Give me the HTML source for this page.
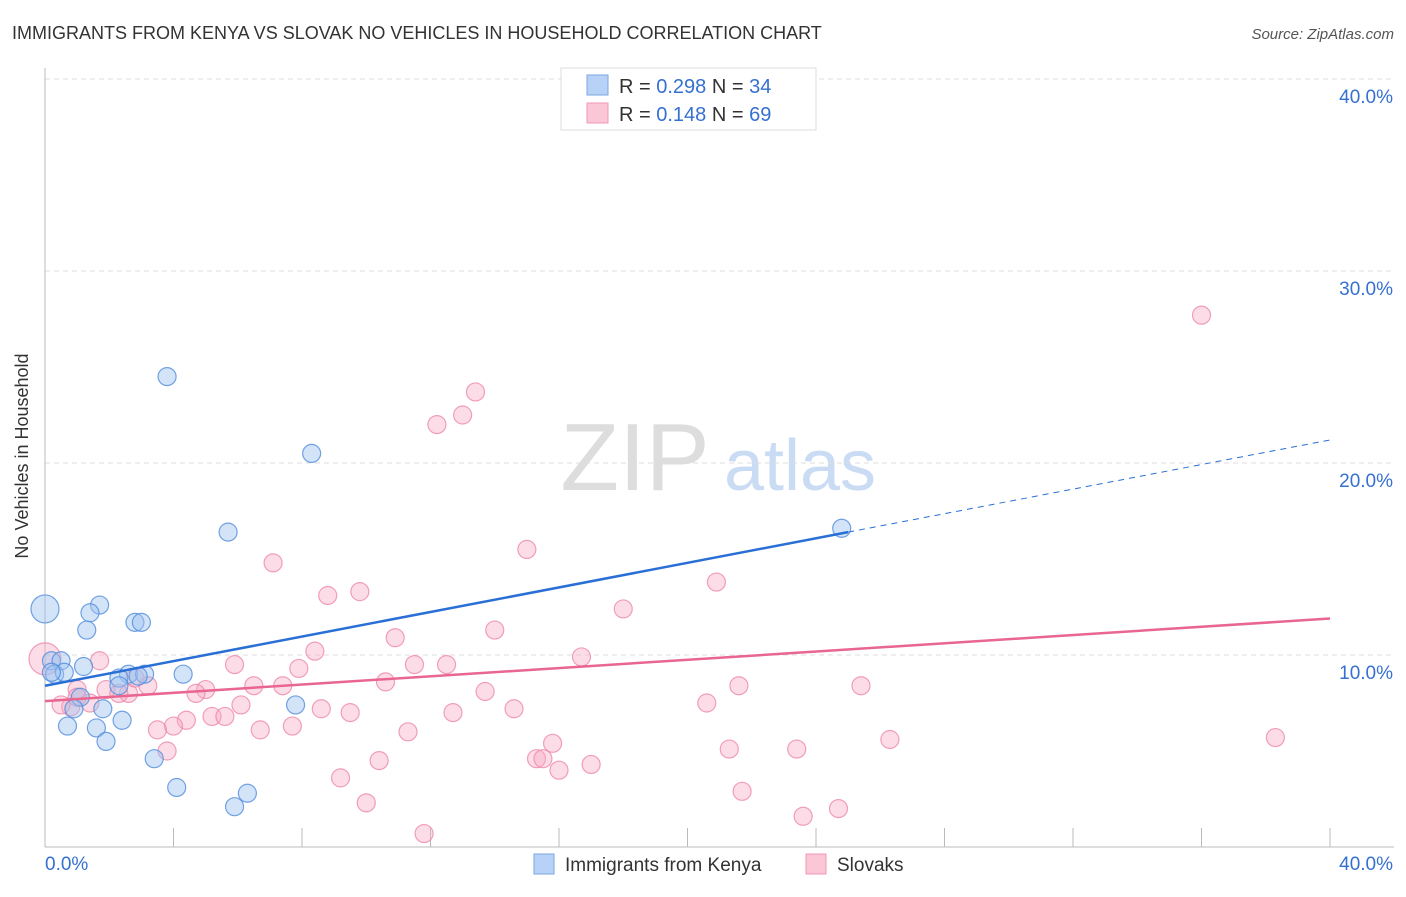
<!DOCTYPE html>
<html><head><meta charset="utf-8"><style>
body{margin:0;background:#fff;font-family:"Liberation Sans",sans-serif}
svg text{font-family:"Liberation Sans",sans-serif}
</style></head><body>
<svg id="c" width="1406" height="892" xmlns="http://www.w3.org/2000/svg">
<text x="12" y="39" font-size="18" fill="#333">IMMIGRANTS FROM KENYA VS SLOVAK NO VEHICLES IN HOUSEHOLD CORRELATION CHART</text>
<text x="1394" y="39" font-size="15" fill="#555" font-style="italic" text-anchor="end">Source: ZipAtlas.com</text>
<text x="635" y="490" font-size="96" fill="#ddd" font-family="Liberation Serif" text-anchor="middle">ZIP</text>
<text x="800" y="490" font-size="72" fill="#c9dcf3" text-anchor="middle">atlas</text>
<g id="grid"></g><g id="axes"></g><g id="pts"></g><g id="lines"></g>
<text x="28" y="456" font-size="18" fill="#333" text-anchor="middle" transform="rotate(-90 28 456)">No Vehicles in Household</text>
<g>
<rect x="561" y="68" width="255" height="62" fill="#fff" stroke="#ddd"/>
<rect x="587" y="75" width="21" height="20" fill="#b7d2f6" stroke="#7aa6e2"/>
<rect x="587" y="103" width="21" height="20" fill="#fbc6d6" stroke="#ef9ab5"/>
<text x="619" y="93" font-size="20" fill="#333">R = <tspan fill="#3571d0">0.298</tspan>   N = <tspan fill="#3571d0">34</tspan></text>
<text x="619" y="121" font-size="20" fill="#333">R =  <tspan fill="#3571d0">0.148</tspan>   N = <tspan fill="#3571d0">69</tspan></text>
</g>
<g>
<rect x="534" y="854" width="20" height="20" fill="#b7d2f6" stroke="#7aa6e2"/>
<text x="565" y="871" font-size="19" fill="#333">Immigrants from Kenya</text>
<rect x="806" y="854" width="20" height="20" fill="#fbc6d6" stroke="#ef9ab5"/>
<text x="837" y="871" font-size="19" fill="#333">Slovaks</text>
</g>
</svg>
<script>
const yTicks=[10,20,30,40];
const yTickLabels=["10.0%","20.0%","30.0%","40.0%"];
const xTickLabels=["0.0%","40.0%"];
const kenyaX=[0,3.8,8.3,5.7,24.8,1.7,1.4,1.3,2.8,3.0,0.2,0.5,0.3,0.6,1.2,2.6,3.1,2.3,4.3,2.3,1.1,0.9,1.8,0.7,1.6,2.4,1.9,3.4,7.8,4.1,6.3,5.9,0.2,2.9];
const kenyaY=[12.4,24.5,20.5,16.4,16.6,12.6,12.2,11.3,11.7,11.7,9.7,9.7,9.0,9.1,9.4,9.0,9.0,8.8,9.0,8.4,7.8,7.2,7.2,6.3,6.2,6.6,5.5,4.6,7.4,3.1,2.8,2.1,9.1,8.9];
const slovakX=[0,36.0,13.4,13.0,12.2,15.0,7.1,9.8,8.8,20.9,18.0,14.0,10.9,8.4,16.7,1.7,5.9,11.5,12.5,7.9,10.6,21.6,25.4,3.2,5.0,6.5,7.4,13.7,4.7,1.9,2.6,1.0,0.8,1.4,0.5,6.1,8.6,9.5,12.7,14.6,20.6,5.2,5.6,4.4,4.0,3.5,6.7,7.7,11.3,3.8,15.8,21.3,23.4,26.3,38.3,15.3,15.5,10.4,16.0,17.0,9.2,21.7,10.0,24.7,23.6,11.8,2.3,2.8,1.0];
const slovakY=[9.8,27.7,23.7,22.5,22.0,15.5,14.8,13.3,13.1,13.8,12.4,11.3,10.9,10.2,9.9,9.7,9.5,9.5,9.5,9.3,8.6,8.4,8.4,8.4,8.2,8.4,8.4,8.1,8.0,8.2,8.0,8.2,7.3,7.5,7.4,7.4,7.2,7.0,7.0,7.2,7.5,6.8,6.8,6.6,6.3,6.1,6.1,6.3,6.0,5.0,5.4,5.1,5.1,5.6,5.7,4.6,4.6,4.5,4.0,4.3,3.6,2.9,2.3,2.0,1.6,0.7,8.0,8.8,7.8];
const kenyaTrend=[[0,8.4],[25,16.4],[40,21.2]];
const slovakTrend=[[0,7.6],[40,11.9]];
const NS="http://www.w3.org/2000/svg";
const X=v=>45+v*32.125, Y=v=>847-v*19.2;
function mk(p,t,a){const e=document.createElementNS(NS,t);for(const k in a)e.setAttribute(k,a[k]);document.getElementById(p).appendChild(e);return e;}
yTicks.forEach((t,i)=>{
 const g=mk('grid','line',{x1:45,x2:1394,y1:Y(t),y2:Y(t),stroke:'#ddd','stroke-dasharray':'5,4'});
 
 
 const l=mk('grid','text',{x:1393,y:Y(t)+24,'font-size':19,fill:'#3571d0','text-anchor':'end'});
 l.textContent=yTickLabels[i];
 
 
});
mk('axes','line',{x1:45,x2:45,y1:68,y2:847,stroke:'#bbb'});
mk('axes','line',{x1:45,x2:1394,y1:847,y2:847,stroke:'#bbb'});
for(let i=1;i<=10;i++){const t=mk('axes','line',{x1:X(i*4),x2:X(i*4),y1:828,y2:847,stroke:'#bbb'});
 
 }
const xl0=mk('axes','text',{x:45,y:870,'font-size':19,fill:'#3571d0'});xl0.textContent=xTickLabels[0];


const xl1=mk('axes','text',{x:1393,y:870,'font-size':19,fill:'#3571d0','text-anchor':'end'});xl1.textContent=xTickLabels[1];


slovakX.forEach((v,i)=>{const c=mk('pts','circle',{cx:X(v),cy:Y(slovakY[i]),r:i==0?16:9,fill:'rgba(248,170,195,0.4)',stroke:'rgba(236,130,165,0.75)','stroke-width':1.2});
 
 });
kenyaX.forEach((v,i)=>{const c=mk('pts','circle',{cx:X(v),cy:Y(kenyaY[i]),r:i==0?14:9,fill:'rgba(160,195,240,0.45)',stroke:'rgba(80,140,220,0.8)','stroke-width':1.2});
 
 });
const kb=mk('lines','line',{x1:X(kenyaTrend[0][0]),y1:Y(kenyaTrend[0][1]),x2:X(kenyaTrend[1][0]),y2:Y(kenyaTrend[1][1]),stroke:'#2a6fd6','stroke-width':2.5});


const kd=mk('lines','line',{x1:X(kenyaTrend[1][0]),y1:Y(kenyaTrend[1][1]),x2:X(kenyaTrend[2][0]),y2:Y(kenyaTrend[2][1]),stroke:'#2a6fd6','stroke-width':1,'stroke-dasharray':'6,5'});


const sl=mk('lines','line',{x1:X(slovakTrend[0][0]),y1:Y(slovakTrend[0][1]),x2:X(slovakTrend[1][0]),y2:Y(slovakTrend[1][1]),stroke:'#e8668f','stroke-width':2.5});


</script>
</body></html>
